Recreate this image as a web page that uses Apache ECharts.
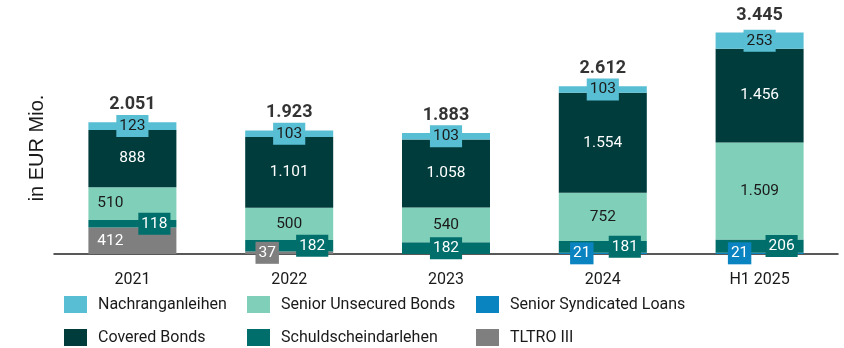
<!DOCTYPE html>
<html>
<head>
<meta charset="utf-8">
<script src="https://cdn.jsdelivr.net/npm/echarts@6/dist/echarts.min.js"></script>
<style>
  html, body { margin: 0; padding: 0; background: #fff; }
  #chart { width: 844px; height: 348px; }
</style>
</head>
<body>
<div id="chart"></div>
<script>
// Funding mix per year, EUR millions
const categories = ['2021', '2022', '2023', '2024', 'H1 2025'];
const tltro = [412, 37, null, null, null];
const syndicatedLoans = [null, null, null, 21, 21];
const schuldschein = [118, 182, 182, 181, 206];
const seniorUnsecured = [510, 500, 540, 752, 1509];
const coveredBonds = [888, 1101, 1058, 1554, 1456];
const nachrang = [123, 103, 103, 103, 253];
const totals = [2051, 1923, 1883, 2612, 3445];

// German number format: 1.101
function fmt(v) {
  return String(v).replace(/\B(?=(\d{3})+(?!\d))/g, '.');
}

const FONT = 'Roboto';
const TEXT = '#1a1a1a';

// series in stacking order, bottom to top
const stackDefs = [
  { name: 'TLTRO III', values: tltro, color: '#7f7f7f', text: '#ffffff', dx: [-22, -22, 0, 0, 0], box: true },
  { name: 'Senior Syndicated Loans', values: syndicatedLoans, color: '#0a84c1', text: '#ffffff', dx: [0, 0, 0, -21, -20], box: true },
  { name: 'Schuldscheindarlehen', values: schuldschein, color: '#006e6b', text: '#ffffff', dx: [22, 23, 0, 22, 22], box: true },
  { name: 'Senior Unsecured Bonds', values: seniorUnsecured, color: '#80d0b9', text: TEXT, dx: [-22, 0, 0, 0, 0], box: false },
  { name: 'Covered Bonds', values: coveredBonds, color: '#003c3c', text: '#ffffff', dx: [0, 0, 0, 0, 0], box: false },
  { name: 'Nachranganleihen', values: nachrang, color: '#58bed3', text: TEXT, dx: [0, 0, 0, 0, 0], box: true }
];

const barSeries = stackDefs.map(function (d) {
  return {
    name: d.name,
    type: 'bar',
    stack: 'total',
    barWidth: 88,
    itemStyle: { color: d.color },
    data: d.values.map(function (v, i) {
      return {
        value: v,
        label: {
          show: v != null,
          position: 'inside',
          offset: [d.dx[i], 0],
          formatter: function (p) { return fmt(p.value); },
          color: d.text,
          fontFamily: FONT,
          fontSize: 15.5,
          lineHeight: 16,
          backgroundColor: d.box ? d.color : 'transparent',
          padding: [3, 3, 3, 3]
        }
      };
    })
  };
});

// sum labels above each column
const totalSeries = {
  name: 'Summe',
  type: 'scatter',
  symbolSize: 1,
  itemStyle: { color: 'rgba(0,0,0,0)' },
  z: 5,
  data: totals,
  label: {
    show: true,
    position: 'top',
    distance: 7,
    formatter: function (p) { return fmt(p.value); },
    color: '#000',
    fontFamily: FONT,
    fontWeight: 'bold',
    fontSize: 18,
    lineHeight: 20
  }
};

function legendCol(names, left) {
  return {
    data: names,
    orient: 'vertical',
    left: left,
    top: 296,
    padding: 0,
    itemWidth: 23,
    itemHeight: 17,
    itemGap: 16,
    icon: 'rect',
    selectedMode: false,
    textStyle: { color: TEXT, fontFamily: FONT, fontSize: 16, padding: [0, 0, 0, 6] }
  };
}

const chart = echarts.init(document.getElementById('chart'), null, { renderer: 'canvas' });
chart.setOption({
  animation: false,
  grid: { left: 54, right: 6, top: 29, bottom: 94 },
  xAxis: {
    type: 'category',
    data: categories,
    axisLine: { lineStyle: { color: '#222', width: 1.5 } },
    axisTick: { show: false },
    axisLabel: { color: TEXT, fontFamily: FONT, fontSize: 16, margin: 18 }
  },
  yAxis: {
    type: 'value',
    min: 0,
    max: 3500,
    show: false,
    splitLine: { show: false }
  },
  legend: [
    legendCol(['Nachranganleihen', 'Covered Bonds'], 64),
    legendCol(['Senior Unsecured Bonds', 'Schuldscheindarlehen'], 247),
    legendCol(['Senior Syndicated Loans', 'TLTRO III'], 476)
  ],
  graphic: [{
    type: 'text',
    x: 37,
    y: 148,
    rotation: Math.PI / 2,
    style: {
      text: 'in EUR Mio.',
      fill: TEXT,
      font: '20px "Liberation Sans", Arial, sans-serif',
      align: 'center',
      verticalAlign: 'middle'
    }
  }],
  series: barSeries.concat([totalSeries])
});
</script>
</body>
</html>
